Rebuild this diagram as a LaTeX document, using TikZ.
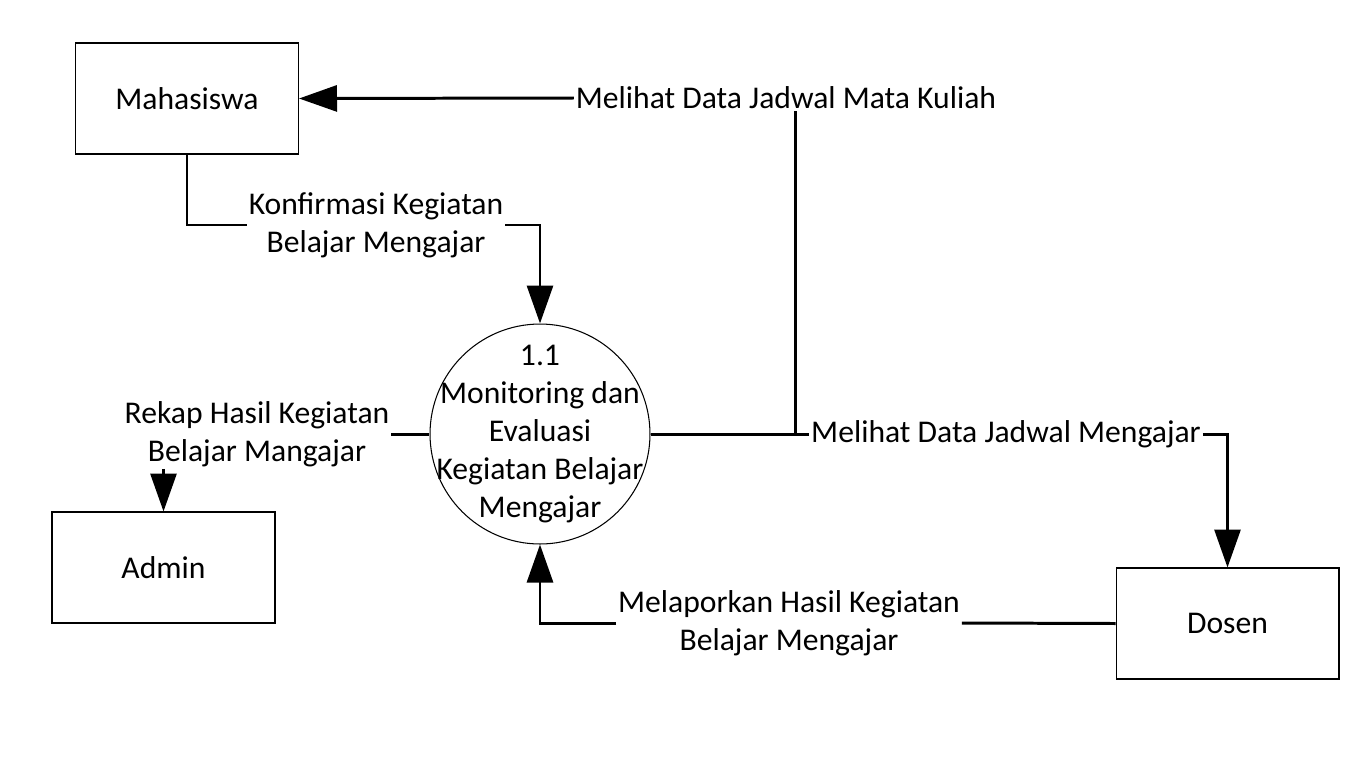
\documentclass[tikz,border=0pt]{standalone}
\usepackage{fontspec}
\setmainfont{Carlito}
\usetikzlibrary{arrows.meta, positioning}

\tikzset{
  entity/.style={draw, line width=0.6pt, minimum width=4.46cm, minimum height=2.22cm},
  process/.style={draw, circle, line width=0.6pt, minimum size=4.4cm, inner sep=0pt},
  flowtext/.style={align=center, inner sep=1pt},
  flow/.style={line width=1.7pt},
  arrowflow/.style={flow, -{Triangle[length=0.76cm, width=0.52cm]}}
}

\begin{document}
\begin{tikzpicture}[x=0.02cm, y=-0.02cm, font=\fontsize{18pt}{21.6pt}\selectfont]
\useasboundingbox (0,0) rectangle (1366,768);

\node[entity] (mahasiswa) at (187,98.5) {Mahasiswa};
\node[entity] (admin) at (163.5,567.5) {Admin};
\node[entity] (dosen) at (1227.5,623.5) {Dosen};
\node[process] (proses) at (540,434) {};
\node[align=center, inner sep=0pt] (prosesText) at (proses.center)
  {1.1\\Monitoring dan\\Evaluasi\\Kegiatan Belajar\\Mengajar};

% labels on the flows
\node[flowtext] (jadwalMK) at (786,98) {Melihat Data Jadwal Mata Kuliah};
\node[flowtext] (konfirmasi) at (376,225) {Konfirmasi Kegiatan\\Belajar Mengajar};
\node[flowtext] (rekap) at (257,434) {Rekap Hasil Kegiatan\\Belajar Mangajar};
\node[flowtext] (jadwalM) at (1006,434) {Melihat Data Jadwal Mengajar};
\node[flowtext] (lapor) at (789,623) {Melaporkan Hasil Kegiatan\\Belajar Mengajar};

\coordinate (cabang) at (795,434);

% flows
\draw[flow] (proses.east) -- (jadwalM.west);
\draw[arrowflow] (jadwalM.east) -| (dosen.north);
\draw[flow] (cabang) -- (cabang |- jadwalMK.south);
\draw[arrowflow] (jadwalMK.west) -- (mahasiswa.east);
\draw[flow] (mahasiswa.south) |- (konfirmasi.west);
\draw[arrowflow] (konfirmasi.east) -| (proses.north);
\draw[flow] (proses.west) -- (rekap.east);
\draw[arrowflow] (rekap.south -| admin.north) -- (admin.north);
\draw[flow] (dosen.west) -- (lapor.east);
\draw[arrowflow] (lapor.west) -| (proses.south);
\end{tikzpicture}
\end{document}
